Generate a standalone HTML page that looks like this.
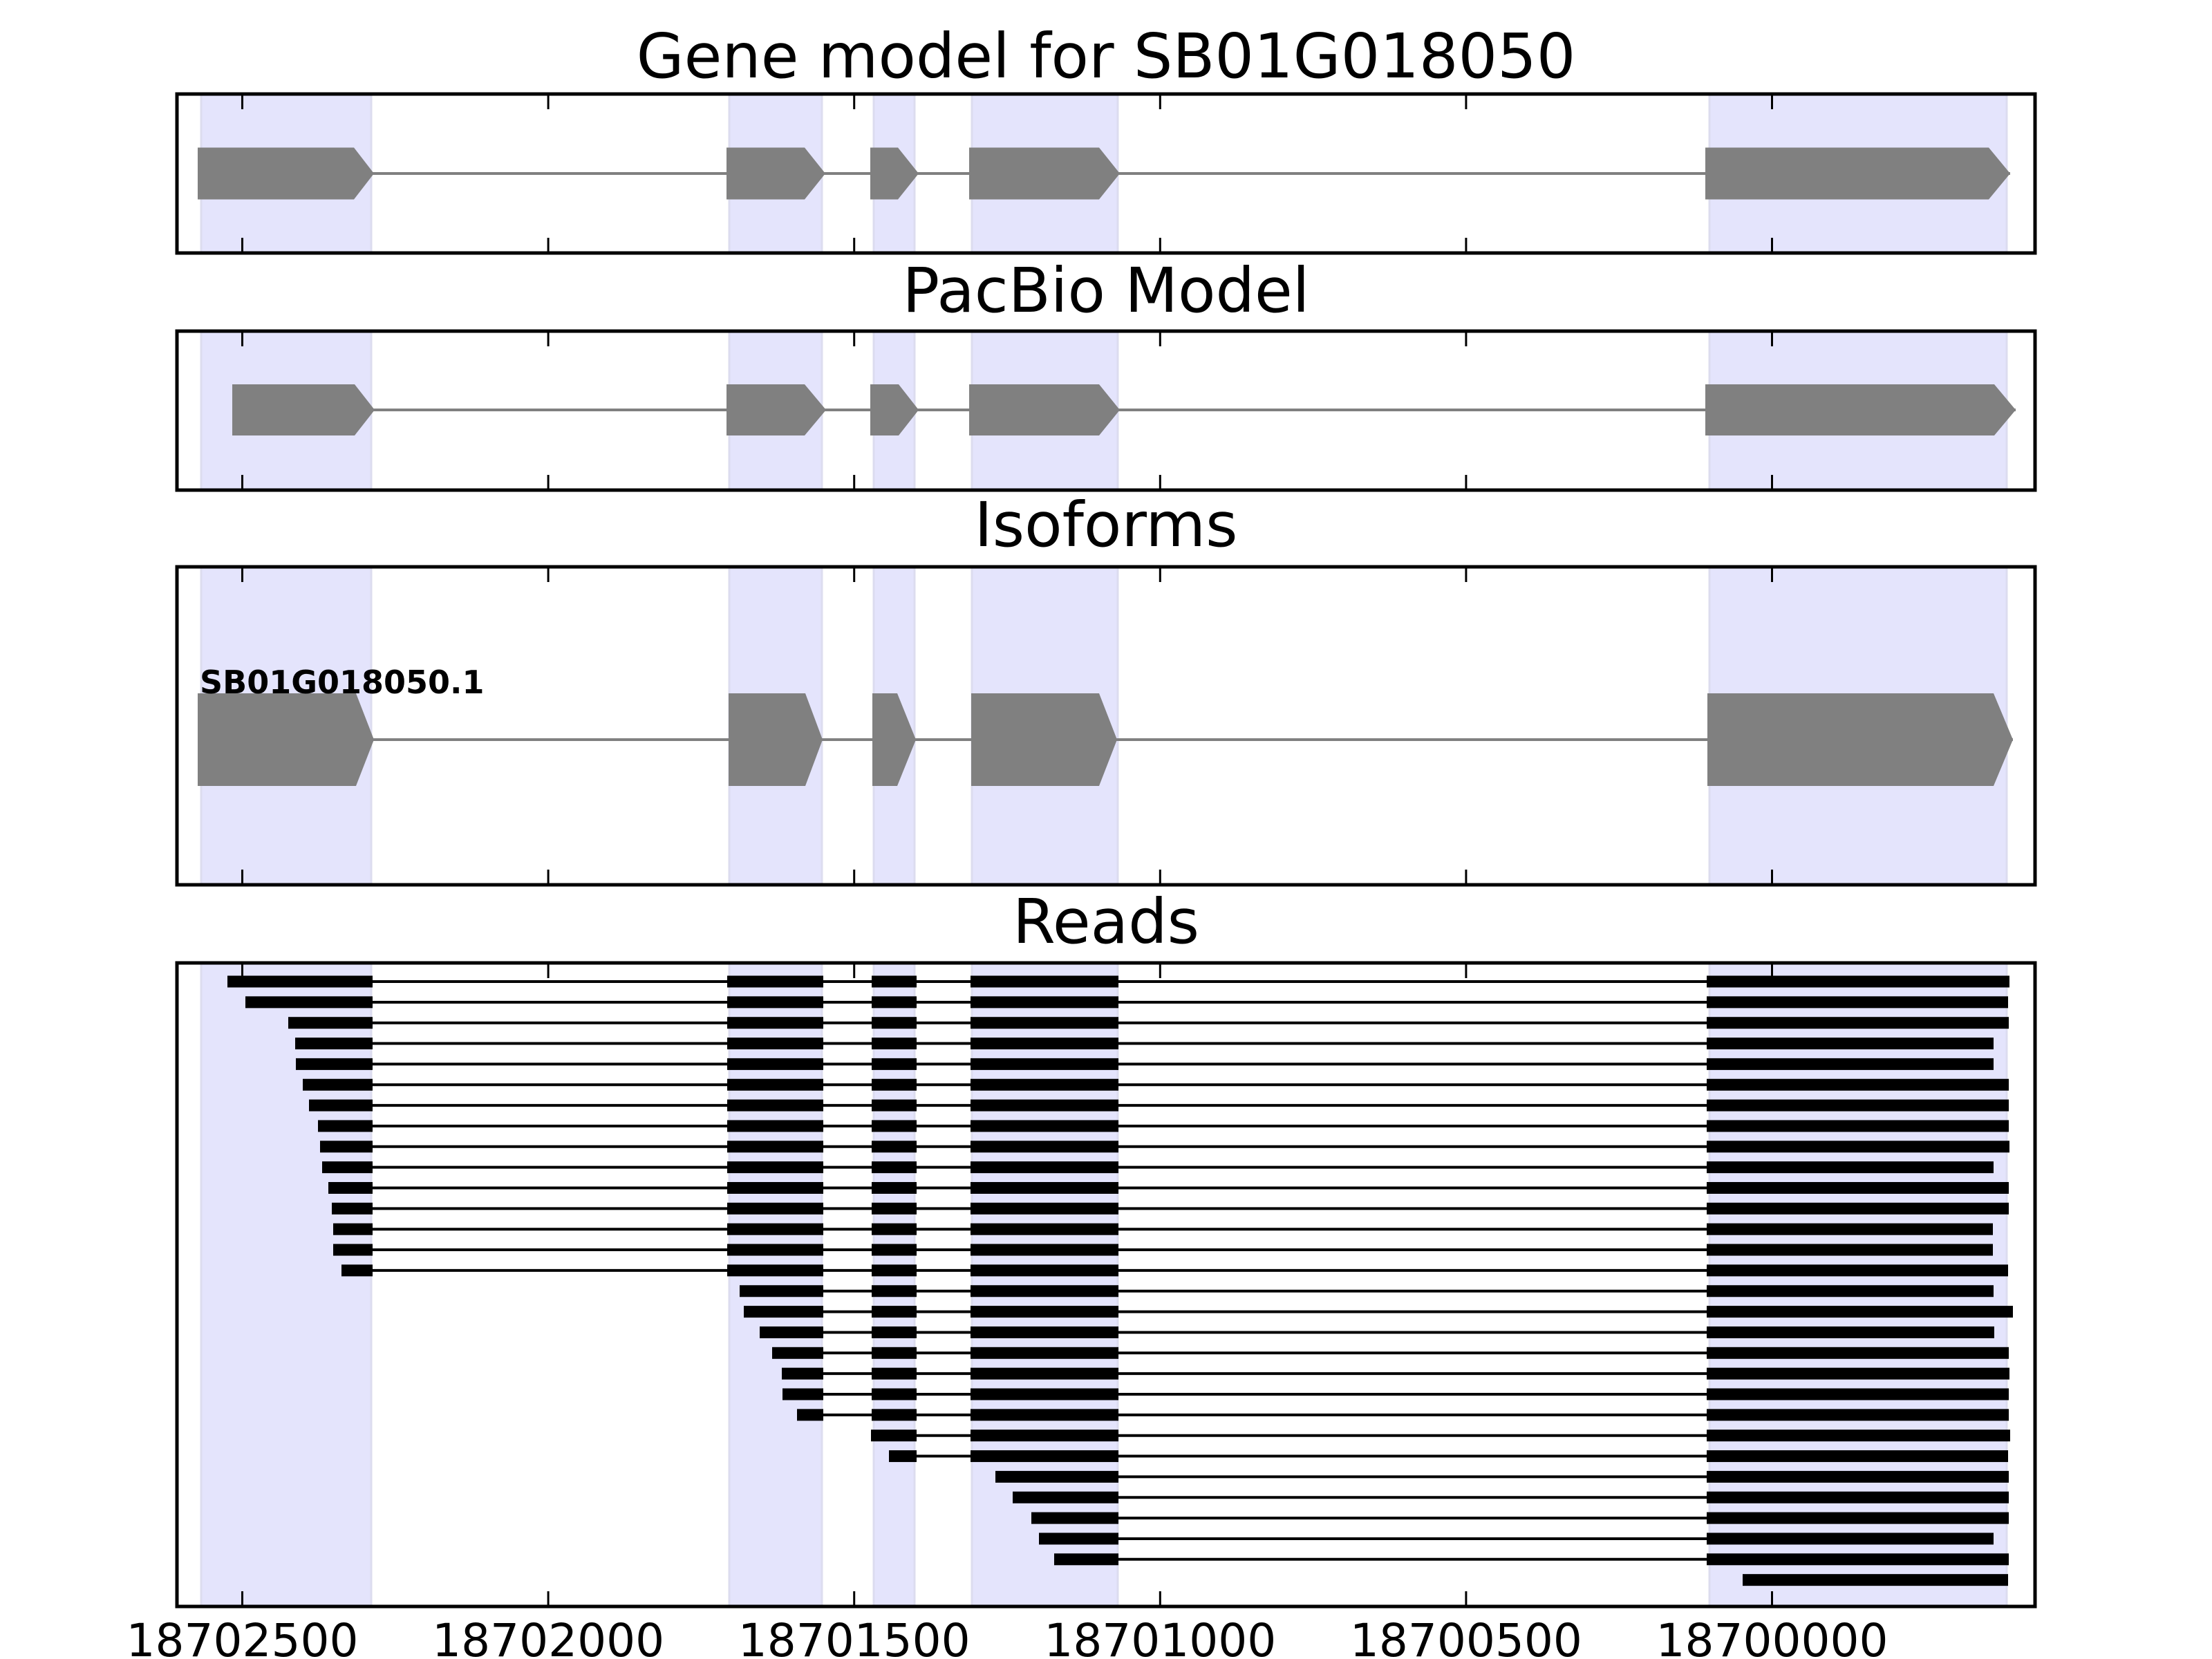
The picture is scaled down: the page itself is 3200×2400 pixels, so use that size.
<!DOCTYPE html>
<html><head><meta charset="utf-8"><style>
html,body{margin:0;padding:0;background:#fff;}
svg{display:block;}
text{font-family:"DejaVu Sans","Liberation Sans",sans-serif;}
</style></head><body>
<svg xmlns="http://www.w3.org/2000/svg" width="3200" height="2400" viewBox="0 0 3200 2400">
<rect width="3200" height="2400" fill="#fff"/>
<g id="all"></g>
<script>
(function(){
var NS="http://www.w3.org/2000/svg",g=document.getElementById("all");
function el(t,a,txt){var e=document.createElementNS(NS,t);for(var k in a)e.setAttribute(k,a[k]);if(txt)e.textContent=txt;g.appendChild(e);return e;}
var X0=256,X1=2944;
var panels=[[136,366],[479,709],[820,1280],[1393,2324]];
var shades=[[291,537],[1055,1189],[1264,1323],[1406,1617],[2473,2903]];
var ticks=[];for(var i=0;i<6;i++)ticks.push(350.5+i*442.6);
panels.forEach(function(p){
 shades.forEach(function(s){el("rect",{x:s[0],y:p[0],width:s[1]-s[0],height:p[1]-p[0],fill:"#e4e4fc",stroke:"#dcdcef","stroke-width":3});});
});
function arrow(x0,xb,xt,yc,h){el("polygon",{points:x0+","+(yc-h/2)+" "+xb+","+(yc-h/2)+" "+xt+","+yc+" "+xb+","+(yc+h/2)+" "+x0+","+(yc+h/2),fill:"#808080"});}
function gene(yc,h,ex){el("line",{x1:ex[0][0],x2:ex[ex.length-1][2],y1:yc,y2:yc,stroke:"#808080","stroke-width":4});ex.forEach(function(e){arrow(e[0],e[1],e[2],yc,h);});}
gene(251,75,[[286,512,541],[1051,1164,1194],[1259,1299,1329],[1402,1590,1620],[2467,2877,2908]]);
gene(593,74,[[336,513,542],[1051,1164,1195],[1259,1300,1329],[1402,1590,1620],[2467,2885,2916]]);
gene(1070,134,[[286,515,541],[1054,1165,1190],[1262,1298,1325],[1405,1590,1616],[2470,2884,2912]]);
el("text",{x:289,y:1003,"font-size":46,"font-weight":"bold",fill:"#000"},"SB01G018050.1");
var E=[[0,539],[1052,1191],[1261,1326],[1404,1618],[2469,0]];
var starts=[[0,329],[0,355],[0,417],[0,427],[0,428],[0,438],[0,447],[0,460],[0,463],[0,466],[0,475],[0,480],[0,482],[0,482],[0,494],
[1,1070],[1,1076],[1,1099],[1,1117],[1,1131],[1,1132],[1,1153],[2,1260],[2,1286],[3,1440],[3,1465],[3,1492],[3,1503],[3,1525],[4,2521]];
var ends=[2907,2905,2906,2884,2884,2906,2906,2906,2907,2884,2906,2906,2883,2883,2905,2884,2912,2885,2906,2907,2906,2906,2908,2905,2906,2906,2906,2884,2906,2905];
for(var r=0;r<30;r++){
 var y=1420+r*29.85,si=starts[r][0],sx=starts[r][1],ex=ends[r];
 el("line",{x1:sx,x2:ex,y1:y,y2:y,stroke:"#000","stroke-width":4});
 for(var k=si;k<5;k++){var a=(k==si)?sx:E[k][0],b=(k==4)?ex:E[k][1];el("rect",{x:a,y:y-8.5,width:b-a,height:17,fill:"#000"});}
}
panels.forEach(function(p){
 ticks.forEach(function(t){el("line",{x1:t,x2:t,y1:p[0],y2:p[0]+22,stroke:"#000","stroke-width":3});el("line",{x1:t,x2:t,y1:p[1]-22,y2:p[1],stroke:"#000","stroke-width":3});});
 el("rect",{x:X0,y:p[0],width:X1-X0,height:p[1]-p[0],fill:"none",stroke:"#000","stroke-width":5});
});
var titles=[["Gene model for SB01G018050",112],["PacBio Model",451],["Isoforms",790],["Reads",1364]];
titles.forEach(function(t){el("text",{x:1600,y:t[1],"font-size":89,"text-anchor":"middle",fill:"#000"},t[0]);});
var labs=["18702500","18702000","18701500","18701000","18700500","18700000"];
ticks.forEach(function(t,i){el("text",{x:t,y:2396,"font-size":66,"text-anchor":"middle",fill:"#000"},labs[i]);});
})();
</script>
</svg>
</body></html>
